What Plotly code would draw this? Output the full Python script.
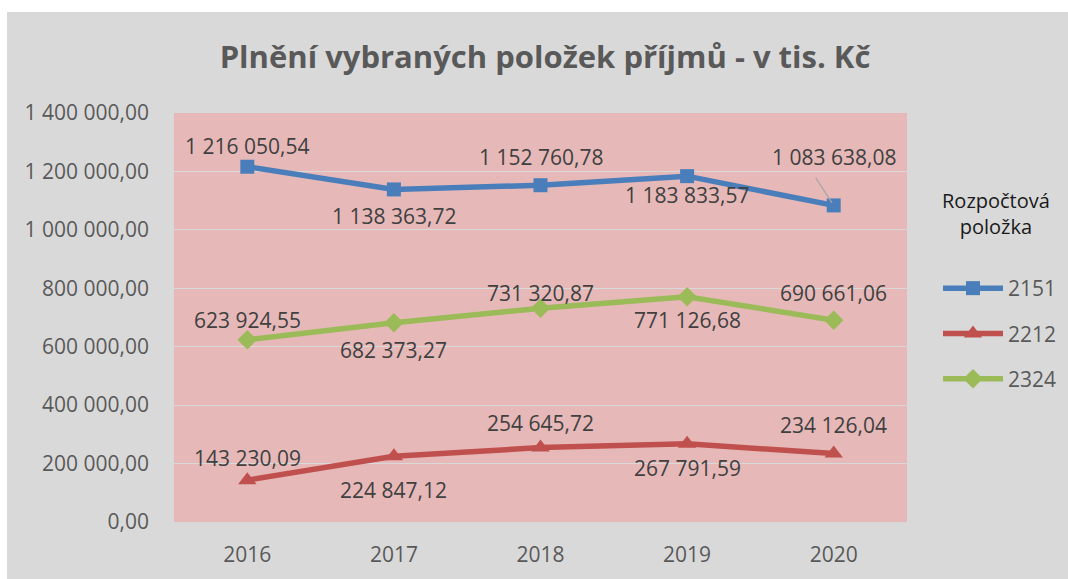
import plotly.graph_objects as go

years = ["2016", "2017", "2018", "2019", "2020"]
series_names = ["2151", "2212", "2324"]
v2151 = [1216050.54, 1138363.72, 1152760.78, 1183833.57, 1083638.08]
v2212 = [143230.09, 224847.12, 254645.72, 267791.59, 234126.04]
v2324 = [623924.55, 682373.27, 731320.87, 771126.68, 690661.06]
y_ticks = [0, 200000, 400000, 600000, 800000, 1000000, 1200000, 1400000]

# label vertical offsets in px (styling)
shift2151 = [21, -27, 28, -19, 48]
shift2212 = [22, -34, 25, -24, 29]
shift2324 = [20, -27, 15, -23, 27]

colors = ["#4A7EBB", "#C0504D", "#9BBB59"]
symbols = ["square", "triangle-up", "diamond"]
msizes = [14, 16, 15]
values = [v2151, v2212, v2324]
shifts = [shift2151, shift2212, shift2324]

FONT = "Open Sans"
LABEL_COLOR = "#404040"
TICK_COLOR = "#595959"

W, H = 1068, 579
PL, PR, PT, PB = 174, 907, 113, 522
PW, PH = PR - PL, PB - PT


def px_x(x):
    return (x - PL) / PW


def px_y(y):
    return (PB - y) / PH


def fmt(v):
    return f"{v:,.2f}".replace(",", " ").replace(".", ",")


fig = go.Figure()
for name, vals, c, s, ms in zip(series_names, values, colors, symbols, msizes):
    fig.add_trace(go.Scatter(
        x=years, y=vals, name=name, mode="lines+markers",
        line=dict(color=c, width=5.5),
        marker=dict(symbol=s, size=ms, color=c, line=dict(width=0)),
        legendgroup=name,
        hoverinfo="skip",
    ))

annotations = []
for vals, sh in zip(values, shifts):
    for i, (v, d) in enumerate(zip(vals, sh)):
        annotations.append(dict(
            x=i, y=v, xref="x", yref="y", text=fmt(v), showarrow=False,
            yshift=d, font=dict(family=FONT, size=21, color=LABEL_COLOR),
        ))

# leader line for the displaced 2020 label of 2151
annotations.append(dict(
    x=4, y=v2151[4], xref="x", yref="y", text="", showarrow=True,
    ax=-19, ay=-29, arrowhead=0, arrowwidth=1.2, arrowcolor="#A6A6A6", standoff=3,
))

# legend title
annotations.append(dict(
    x=px_x(996), y=px_y(213), xref="paper", yref="paper",
    text="Rozpočtová<br>položka", showarrow=False, xanchor="center", yanchor="middle",
    font=dict(family=FONT, size=20, color="#1A1A1A"),
))

shapes = [
    # white outer strips (top, left)
    dict(type="rect", xref="paper", yref="paper", x0=-0.5, x1=1.5,
         y0=px_y(12), y1=1.6, fillcolor="white", line=dict(width=0), layer="above"),
    dict(type="rect", xref="paper", yref="paper", x0=-0.5, x1=px_x(7),
         y0=-0.5, y1=1.6, fillcolor="white", line=dict(width=0), layer="above"),
]

fig.update_layout(
    width=W, height=H,
    margin=dict(l=PL, r=W - PR, t=PT, b=H - PB, autoexpand=False),
    paper_bgcolor="#D9D9D9",
    plot_bgcolor="#E6B9B8",
    separators=", ",
    font=dict(family=FONT, size=21, color=TICK_COLOR),
    title=dict(
        text="<b>Plnění vybraných položek příjmů - v tis. Kč</b>",
        x=545 / W, xanchor="center", y=1 - 57 / H, yanchor="middle",
        font=dict(family=FONT, size=31, color="#595959"),
    ),
    xaxis=dict(
        type="category", range=[-0.5, 4.5], showgrid=False, zeroline=False,
        showline=False, ticks="", ticklabelstandoff=18,
        tickfont=dict(family=FONT, size=21, color=TICK_COLOR),
    ),
    yaxis=dict(
        range=[0, 1400000], tickvals=y_ticks, tickformat=",.2f",
        showgrid=True, gridcolor="#D9D9D9", gridwidth=1, zeroline=False,
        showline=False, ticks="", ticklabelstandoff=24,
        tickfont=dict(family=FONT, size=21, color=TICK_COLOR),
    ),
    legend=dict(
        x=px_x(938), y=px_y(268), xanchor="left", yanchor="top",
        bgcolor="rgba(0,0,0,0)", tracegroupgap=15, itemwidth=60,
        font=dict(family=FONT, size=21, color=TICK_COLOR),
    ),
    annotations=annotations,
    shapes=shapes,
    showlegend=True,
)

fig.write_html(
    "out.html",
    config={"displayModeBar": False},
    post_script="document.body.style.margin='0';document.body.style.overflow='hidden';",
)
